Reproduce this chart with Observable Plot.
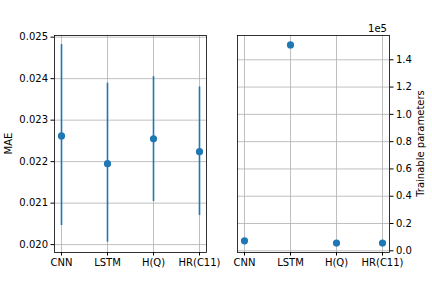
<!DOCTYPE html>
<html>
<head>
<meta charset="utf-8">
<script src="https://cdn.jsdelivr.net/npm/d3@7"></script>
<script src="https://cdn.jsdelivr.net/npm/@observablehq/plot@0.6"></script>
<style>
  html, body { margin: 0; padding: 0; background: white; }
  #wrap { position: relative; width: 432px; height: 288px; overflow: hidden; background: white; }
  #wrap svg { position: absolute; top: 0; overflow: visible; background: transparent; }
</style>
</head>
<body>
<div id="wrap"></div>
<script>
const models = ["CNN", "LSTM", "H(Q)", "HR(C11)"];
const maeMean = [0.02262, 0.02195, 0.02255, 0.02224];
const maeLow = [0.02046, 0.02006, 0.02104, 0.02070];
const maeHigh = [0.02482, 0.02389, 0.02405, 0.02380];
const params = [7300, 150900, 5650, 5650];
const maeTicks = [0.020, 0.021, 0.022, 0.023, 0.024, 0.025];
const paramTicks = [0, 20000, 40000, 60000, 80000, 100000, 120000, 140000];

const blue = "#1f77b4";
const gridColor = "#b0b0b0";
const font = {fontFamily: "DejaVu Sans", fontSize: "10px", color: "black", background: "transparent", overflow: "visible"};

const maeData = models.map((m, i) => ({model: m, mean: maeMean[i], lo: maeLow[i], hi: maeHigh[i]}));
const parData = models.map((m, i) => ({model: m, p: params[i]}));

const xScale = {type: "point", domain: models, padding: 0.152};

const left = Plot.plot({
  width: 216, height: 288,
  marginLeft: 54, marginRight: 10, marginTop: 35, marginBottom: 36,
  style: font,
  x: {...xScale, label: null, tickSize: 3.5, tickPadding: 3},
  y: {domain: [0.01981, 0.02504], ticks: maeTicks, tickFormat: d => d.toFixed(3), label: null, tickSize: 3.5, tickPadding: 3},
  marks: [
    Plot.gridX(models, {stroke: gridColor, strokeOpacity: 1, strokeWidth: 0.8}),
    Plot.gridY(maeTicks, {stroke: gridColor, strokeOpacity: 1, strokeWidth: 0.8}),
    Plot.ruleX(maeData, {x: "model", y1: "lo", y2: "hi", stroke: blue, strokeWidth: 1.6}),
    Plot.dot(maeData, {x: "model", y: "mean", r: 3.6, fill: blue, stroke: null}),
    Plot.frame({stroke: "black", strokeWidth: 0.8})
  ]
});
left.style.left = "0px";

const right = Plot.plot({
  width: 216, height: 288,
  marginLeft: 21, marginRight: 43, marginTop: 35, marginBottom: 36,
  style: font,
  x: {...xScale, label: null, tickSize: 3.5, tickPadding: 3},
  y: {domain: [-1250, 157800], axis: "right", ticks: paramTicks, tickFormat: d => (d / 1e5).toFixed(1), label: null, tickSize: 3.5, tickPadding: 3},
  marks: [
    Plot.gridX(models, {stroke: gridColor, strokeOpacity: 1, strokeWidth: 0.8}),
    Plot.gridY(paramTicks, {stroke: gridColor, strokeOpacity: 1, strokeWidth: 0.8}),
    Plot.dot(parData, {x: "model", y: "p", r: 3.6, fill: blue, stroke: null}),
    Plot.frame({stroke: "black", strokeWidth: 0.8})
  ]
});
right.style.left = "216px";

const wrap = document.getElementById("wrap");
wrap.appendChild(right);
wrap.appendChild(left);

// axis labels
d3.select(left).append("text")
  .attr("transform", "translate(9,143.5) rotate(-90)")
  .attr("text-anchor", "middle").attr("dominant-baseline", "middle")
  .attr("fill", "black").style("font-size", "10px").text("MAE");

d3.select(right).append("text")
  .attr("transform", "translate(205,143.5) rotate(-90)")
  .attr("text-anchor", "middle").attr("dominant-baseline", "middle")
  .attr("fill", "black").style("font-size", "10px").text("Trainable parameters");

d3.select(right).append("text")
  .attr("x", 171).attr("y", 32)
  .attr("text-anchor", "end")
  .attr("fill", "black").style("font-size", "10px").text("1e5");
</script>
</body>
</html>
